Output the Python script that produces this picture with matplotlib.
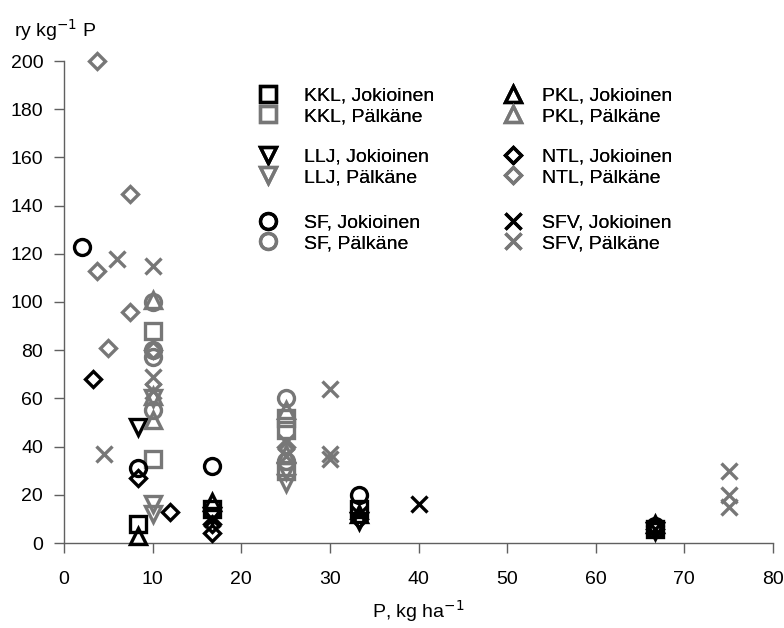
import matplotlib
matplotlib.use("Agg")
import matplotlib.pyplot as plt

plt.rcParams['font.family'] = ['Liberation Sans', 'DejaVu Sans']

BLACK = '#000000'
GREY = '#777777'

# P rate (kg/ha) and yield response per kg P, by treatment and site
kkl_jok_x = [8.3, 16.7, 33.3, 66.7]
kkl_jok_y = [8, 14, 14, 6]
kkl_pal_x = [10, 10, 25, 25, 25]
kkl_pal_y = [88, 35, 52, 47, 30]

llj_jok_x = [8.3, 16.7, 33.3, 66.7]
llj_jok_y = [48, 11, 9, 5]
llj_pal_x = [10, 10, 10, 25, 25]
llj_pal_y = [60, 16, 12, 30, 25]

sf_jok_x = [2, 8.3, 16.7, 33.3, 66.7]
sf_jok_y = [123, 31, 32, 20, 7]
sf_pal_x = [10, 10, 10, 10, 25, 25]
sf_pal_y = [100, 80, 77, 55, 60, 34]

pkl_jok_x = [8.3, 16.7, 33.3, 66.7]
pkl_jok_y = [3, 17, 12, 8]
pkl_pal_x = [10, 10, 10, 25, 25]
pkl_pal_y = [101, 61, 51, 55, 37]

ntl_jok_x = [3.3, 8.3, 12, 16.7, 16.7, 33.3, 66.7]
ntl_jok_y = [68, 27, 13, 4, 8, 10, 6]
ntl_pal_x = [3.75, 3.75, 5, 7.5, 7.5, 10, 25]
ntl_pal_y = [200, 113, 81, 145, 96, 80, 40]

sfv_jok_x = [16.7, 33.3, 40, 66.7]
sfv_jok_y = [10, 12, 16, 6]
sfv_pal_x = [4.5, 6, 10, 10, 10, 25, 25, 30, 30, 30, 75, 75, 75]
sfv_pal_y = [37, 118, 115, 69, 63, 42, 36, 64, 37, 35, 30, 20, 15]

x_ticks = [0, 10, 20, 30, 40, 50, 60, 70, 80]
y_ticks = [0, 20, 40, 60, 80, 100, 120, 140, 160, 180, 200]

series = [
    ("KKL, Jokioinen", kkl_jok_x, kkl_jok_y, 's', BLACK),
    ("KKL, Pälkäne", kkl_pal_x, kkl_pal_y, 's', GREY),
    ("LLJ, Jokioinen", llj_jok_x, llj_jok_y, 'v', BLACK),
    ("LLJ, Pälkäne", llj_pal_x, llj_pal_y, 'v', GREY),
    ("SF, Jokioinen", sf_jok_x, sf_jok_y, 'o', BLACK),
    ("SF, Pälkäne", sf_pal_x, sf_pal_y, 'o', GREY),
    ("PKL, Jokioinen", pkl_jok_x, pkl_jok_y, '^', BLACK),
    ("PKL, Pälkäne", pkl_pal_x, pkl_pal_y, '^', GREY),
    ("NTL, Jokioinen", ntl_jok_x, ntl_jok_y, 'D', BLACK),
    ("NTL, Pälkäne", ntl_pal_x, ntl_pal_y, 'D', GREY),
    ("SFV, Jokioinen", sfv_jok_x, sfv_jok_y, 'x', BLACK),
    ("SFV, Pälkäne", sfv_pal_x, sfv_pal_y, 'x', GREY),
]

marker_size = {'s': 11, 'v': 12, '^': 12, 'o': 11.5, 'D': 8.5, 'x': 12}

fig = plt.figure(figsize=(7.84, 6.28), dpi=100)
ax = fig.add_axes([64 / 784, 1 - 543 / 628, (773 - 64) / 784, (543 - 61) / 628])

handles = {}
for label, xs, ys, mk, col in series:
    (h,) = ax.plot(xs, ys, linestyle='none', marker=mk, markersize=marker_size[mk],
                   markerfacecolor='none', markeredgecolor=col,
                   markeredgewidth=2.4, label=label, clip_on=False, zorder=3)
    handles[label] = h

ax.set_xlim(0, 80)
ax.set_ylim(0, 200)
ax.set_xticks(x_ticks)
ax.set_yticks(y_ticks)
for side in ('top', 'right'):
    ax.spines[side].set_visible(False)
for side in ('left', 'bottom'):
    ax.spines[side].set_color('#606060')
    ax.spines[side].set_linewidth(1.0)
ax.tick_params(axis='both', direction='out', length=7, width=1.0,
               color='#606060', labelsize=14, labelcolor='black')
ax.tick_params(axis='x', pad=13)
ax.tick_params(axis='y', pad=8)

fig.text(418 / 784, 1 - 611 / 628, "P, kg ha$^{-1}$", ha='center', va='center', fontsize=14)
fig.text(14 / 784, 1 - 30 / 628, "ry kg$^{-1}$ P", ha='left', va='center', fontsize=14)

# Legend: three groups of two rows, two columns
groups = [
    (["KKL, Jokioinen", "KKL, Pälkäne"], ["PKL, Jokioinen", "PKL, Pälkäne"], 106),
    (["LLJ, Jokioinen", "LLJ, Pälkäne"], ["NTL, Jokioinen", "NTL, Pälkäne"], 167),
    (["SF, Jokioinen", "SF, Pälkäne"], ["SFV, Jokioinen", "SFV, Pälkäne"], 233),
]
col_left = [258, 503]
text_pad = [1.35, 1.0]
for left_labels, right_labels, yc in groups:
    for labels, xl, tp in zip((left_labels, right_labels), col_left, text_pad):
        leg = fig.legend([handles[l] for l in labels], labels,
                         loc='center left', bbox_to_anchor=(xl / 784, 1 - yc / 628),
                         frameon=False, fontsize=14, handlelength=1.0,
                         handletextpad=tp, labelspacing=0.15,
                         borderpad=0, borderaxespad=0)
        fig.add_artist(leg)

fig.savefig("out.png", dpi=100)
